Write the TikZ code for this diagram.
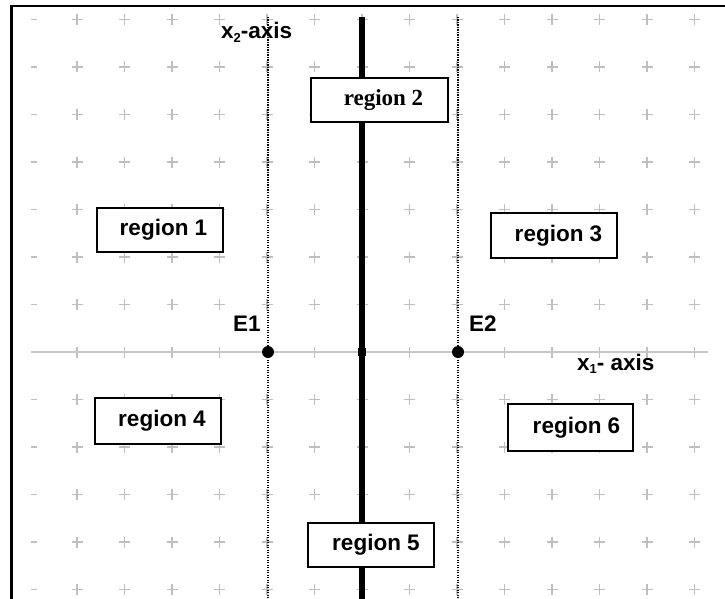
\documentclass[tikz,border=0pt]{standalone}
\usepackage{fontspec}
\setmainfont{Liberation Sans}
\newfontfamily\serifbold{Liberation Serif}
\newcommand{\smallsub}[1]{\raisebox{-3.5pt}{\fontsize{13}{13}\selectfont #1}}
\begin{document}
\begin{tikzpicture}[x=1pt,y=-1pt,
  gridmark/.style={draw=black!25,line width=1.3pt},
  axisline/.style={draw=black!22,line width=1.8pt},
  boundary/.style={draw=black,line width=5.5pt},
  guide/.style={draw=black,line width=1.3pt,dash pattern=on 1.2pt off 1.3pt},
  regbox/.style={draw=black,fill=white,line width=1.7pt,inner sep=0pt,
    font=\fontsize{22.5}{24}\selectfont\bfseries},
  lab/.style={inner sep=0pt,anchor=base west,font=\fontsize{22.5}{24}\selectfont\bfseries},
  eqpt/.style={circle,fill=black,inner sep=0pt,minimum size=12pt}]
\useasboundingbox (0,0) rectangle (725,599);
\fill[white] (0,0) rectangle (725,599);

% outer frame (only its top and left sides fall on the page)
\draw[line width=2.6pt] (11.5,620) -- (11.5,6) -- (740,6);

% grid of small crosses, 47.5 units apart
\foreach \j in {-7,...,5}{
  \pgfmathsetmacro{\yy}{352+47.5*\j}
  \draw[gridmark] (31,\yy) -- (37,\yy);
  \foreach \i in {-6,...,7}{
    \pgfmathsetmacro{\xx}{362+47.5*\i}
    \draw[gridmark] (\xx-5.5,\yy) -- (\xx+5.5,\yy) (\xx,\yy-5.5) -- (\xx,\yy+5.5);
  }
}

% x1 axis
\coordinate (axL) at (31,352);
\coordinate (axR) at (708,352);
\draw[axisline] (axL) -- (axR);

% equilibrium points and their vertical guides
\coordinate (E1top) at (268,17);
\coordinate (E1bot) at (268,610);
\coordinate (E2top) at (458,17);
\coordinate (E2bot) at (458,610);
\draw[guide] (E1top) -- (E1bot);
\draw[guide] (E2top) -- (E2bot);

% switching boundary along the x2 axis
\coordinate (Btop) at (362,17);
\coordinate (Bbot) at (362,610);
\draw[boundary] (Btop) -- (Bbot);
\fill[black] (358,348) rectangle (366,356);

\node[eqpt] (E1) at (268,352) {};
\node[eqpt] (E2) at (458,352) {};

% region labels
\node[regbox,minimum width=126pt,minimum height=44pt] (r1) at (160,230) {\hspace*{7pt}region 1};
\node[regbox,minimum width=137pt,minimum height=44pt,font=\fontsize{23}{25}\selectfont\serifbold\bfseries] (r2) at (379.5,100) {\hspace*{8pt}region 2};
\node[regbox,minimum width=126pt,minimum height=45pt] (r3) at (554,235.5) {\hspace*{9pt}region 3};
\node[regbox,minimum width=126pt,minimum height=46pt] (r4) at (158,421) {\hspace*{8pt}region 4};
\node[regbox,minimum width=126pt,minimum height=44pt] (r5) at (371,545) {\hspace*{10pt}region 5};
\node[regbox,minimum width=125pt,minimum height=47pt] (r6) at (570.5,427.5) {\hspace*{12pt}region 6};

% axis and point names
\node[lab] (x2lab) at (221,39) {x\smallsub{2}-axis};
\node[lab] (x1lab) at (577,370) {x\smallsub{1}- axis};
\node[lab] (E1lab) at (233,331) {E1};
\node[lab] (E2lab) at (469,331) {E2};
\end{tikzpicture}
\end{document}
